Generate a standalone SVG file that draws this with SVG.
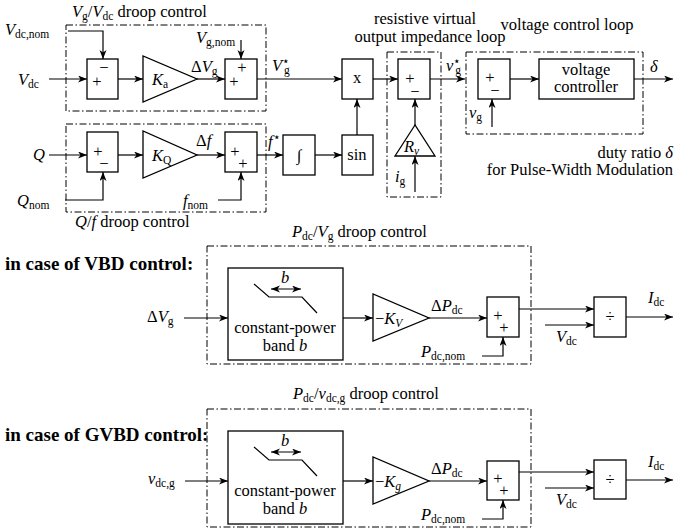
<svg xmlns="http://www.w3.org/2000/svg" width="674" height="529" viewBox="0 0 674 529" font-family="'Liberation Serif', 'Times New Roman', serif">
<defs>
<marker id="ar" markerWidth="10" markerHeight="8" refX="9" refY="3.5" orient="auto" markerUnits="userSpaceOnUse">
<path d="M0,0 L9,3.5 L0,7 L2.5,3.5 z" fill="#000"/>
</marker>
<marker id="ar2" markerWidth="10" markerHeight="8" refX="9" refY="3.5" orient="auto-start-reverse" markerUnits="userSpaceOnUse">
<path d="M0,0 L9,3.5 L0,7 L2.5,3.5 z" fill="#000"/>
</marker>
<style>
text{font-family:'Liberation Serif','Times New Roman',Times,serif;font-size:16.5px;fill:#000}
.i{font-style:italic}
.s{font-size:11.5px;font-style:normal}
.si{font-size:11.5px;font-style:italic}
.bold{font-weight:bold;font-size:19px}
.m{text-anchor:middle}
.e{text-anchor:end}
.box{fill:#fff;stroke:#000;stroke-width:1.3}
.dd{fill:none;stroke:#000;stroke-width:1;stroke-dasharray:7 2.5 1.5 2.5}
.w{fill:none;stroke:#000;stroke-width:1.2;marker-end:url(#ar)}
.l{fill:none;stroke:#000;stroke-width:1.2}
</style>
</defs>

<g id="frames">
<rect class="dd" x="66" y="25" width="200" height="86"/>
<rect class="dd" x="66" y="124" width="200" height="88"/>
<rect class="dd" x="387" y="52" width="54" height="145"/>
<rect class="dd" x="466" y="52" width="177" height="82"/>
<rect class="dd" x="207" y="246" width="324" height="118"/>
<rect class="dd" x="207" y="409" width="324" height="118"/>
</g>

<g id="connectors">
<polyline class="w" points="68,31 103,31 103,59"/>
<line class="w" x1="49" y1="79" x2="87" y2="79"/>
<line class="w" x1="118" y1="79" x2="143" y2="79"/>
<line class="w" x1="197" y1="79" x2="225" y2="79"/>
<line class="w" x1="241" y1="40" x2="241" y2="59"/>
<line class="w" x1="257" y1="79" x2="342" y2="79"/>
<line class="w" x1="49" y1="155" x2="87" y2="155"/>
<line class="w" x1="118" y1="155" x2="143" y2="155"/>
<line class="w" x1="197" y1="155" x2="225" y2="155"/>
<polyline class="w" points="65,200 103,200 103,172"/>
<polyline class="w" points="218,200 241,200 241,172"/>
<line class="w" x1="257" y1="155" x2="283" y2="155"/>
<line class="w" x1="315" y1="155" x2="342" y2="155"/>
<line class="w" x1="357" y1="135" x2="357" y2="99"/>
<line class="w" x1="373" y1="79" x2="398" y2="79"/>
<line class="w" x1="415" y1="125" x2="415" y2="99"/>
<line class="w" x1="415" y1="192" x2="415" y2="156"/>
<line class="w" x1="430" y1="79" x2="465" y2="79"/>
<line class="w" x1="492" y1="127" x2="492" y2="99"/>
<line class="w" x1="510" y1="79" x2="539" y2="79"/>
<line class="w" x1="634" y1="79" x2="673" y2="79"/>

<line class="w" x1="184" y1="318" x2="228" y2="318"/>
<line class="w" x1="343" y1="318" x2="373" y2="318"/>
<line class="w" x1="429" y1="318" x2="487" y2="318"/>
<polyline class="w" points="482,356 503,356 503,337"/>
<line class="w" x1="519" y1="309" x2="594" y2="309"/>
<line class="w" x1="545" y1="325" x2="594" y2="325"/>
<line class="w" x1="626" y1="317" x2="673" y2="317"/>

<line class="w" x1="185" y1="481" x2="228" y2="481"/>
<line class="w" x1="343" y1="481" x2="373" y2="481"/>
<line class="w" x1="429" y1="481" x2="487" y2="481"/>
<polyline class="w" points="482,519 503,519 503,500"/>
<line class="w" x1="519" y1="472" x2="594" y2="472"/>
<line class="w" x1="545" y1="488" x2="594" y2="488"/>
<line class="w" x1="626" y1="480" x2="673" y2="480"/>
</g>

<g id="sum1"><rect class="box" x="87" y="59" width="31" height="40"/>
<text class="m" x="104" y="73">−</text><text class="m" x="97" y="87">+</text></g>
<g id="gainKa"><polygon class="box" points="143,56 143,102 197,79"/>
<text x="152" y="85"><tspan class="i">K</tspan><tspan class="s" dy="3">a</tspan></text></g>
<g id="sum2"><rect class="box" x="225" y="59" width="32" height="40"/>
<text class="m" x="242" y="73">+</text><text class="m" x="234" y="87">+</text></g>

<g id="sum3"><rect class="box" x="87" y="132" width="31" height="40"/>
<text class="m" x="98" y="157">+</text><text class="m" x="104" y="169">−</text></g>
<g id="gainKQ"><polygon class="box" points="143,131 143,178 197,155"/>
<text x="152" y="161"><tspan class="i">K</tspan><tspan class="s" dy="3">Q</tspan></text></g>
<g id="sum4"><rect class="box" x="225" y="132" width="32" height="40"/>
<text class="m" x="235" y="157">+</text><text class="m" x="243" y="169">+</text></g>

<g id="integral"><rect class="box" x="283" y="135" width="32" height="40"/>
<text class="m i" x="299" y="161">∫</text></g>
<g id="sin"><rect class="box" x="342" y="135" width="31" height="40"/>
<text class="m" x="357" y="160">sin</text></g>
<g id="mult"><rect class="box" x="342" y="59" width="31" height="40"/>
<text class="m" x="357" y="83">x</text></g>

<g id="sumR"><rect class="box" x="398" y="59" width="32" height="40"/>
<text class="m" x="410" y="84">+</text><text class="m" x="415" y="97">−</text></g>
<g id="gainRv"><polygon class="box" points="415,125 395,156 435,156"/>
<text x="404" y="152"><tspan class="i">R</tspan><tspan class="si" dy="3">v</tspan></text></g>

<g id="sumV"><rect class="box" x="478" y="59" width="32" height="40"/>
<text class="m" x="490" y="83">+</text><text class="m" x="495" y="96">−</text></g>
<g id="controller"><rect class="box" x="539" y="59" width="95" height="40"/>
<text class="m" x="586" y="75">voltage</text><text class="m" x="586" y="92">controller</text></g>

<g id="band1"><rect class="box" x="228" y="268" width="115" height="92"/>
<polyline class="l" points="254,284 269,297 302,297 317,313"/>
<line class="l" x1="271" y1="289" x2="301" y2="289" marker-start="url(#ar2)" marker-end="url(#ar2)" style="stroke-width:1"/>
<text class="m i" x="285" y="283">b</text>
<text class="m" x="285" y="333">constant-power</text>
<text class="m" x="285" y="351">band <tspan class="i">b</tspan></text></g>
<g id="gainKV"><polygon class="box" points="373,294 373,341 429,318"/>
<text x="375" y="324">−<tspan class="i">K</tspan><tspan class="si" dy="3">V</tspan></text></g>
<g id="sum5"><rect class="box" x="487" y="297" width="32" height="40"/>
<text class="m" x="498" y="321">+</text><text class="m" x="504" y="333">+</text></g>
<g id="div1"><rect class="box" x="594" y="297" width="32" height="40"/>
<text class="m" x="610" y="322">÷</text></g>

<g id="band2"><rect class="box" x="228" y="431" width="115" height="93"/>
<polyline class="l" points="254,447 269,460 302,460 317,476"/>
<line class="l" x1="271" y1="452" x2="301" y2="452" marker-start="url(#ar2)" marker-end="url(#ar2)" style="stroke-width:1"/>
<text class="m i" x="285" y="446">b</text>
<text class="m" x="285" y="496">constant-power</text>
<text class="m" x="285" y="514">band <tspan class="i">b</tspan></text></g>
<g id="gainKg"><polygon class="box" points="373,457 373,504 429,481"/>
<text x="375" y="487">−<tspan class="i">K</tspan><tspan class="si" dy="3">g</tspan></text></g>
<g id="sum6"><rect class="box" x="487" y="461" width="32" height="39"/>
<text class="m" x="498" y="484">+</text><text class="m" x="504" y="496">+</text></g>
<g id="div2"><rect class="box" x="594" y="460" width="32" height="39"/>
<text class="m" x="610" y="485">÷</text></g>

<g id="labels">
<text x="72" y="17"><tspan class="i">V</tspan><tspan class="s" dy="3">g</tspan><tspan dy="-3">/</tspan><tspan class="i">V</tspan><tspan class="s" dy="3">dc</tspan><tspan dy="-3"> droop control</tspan></text>
<text x="5" y="35"><tspan class="i">V</tspan><tspan class="s" dy="3">dc,nom</tspan></text>
<text x="18" y="85"><tspan class="i">V</tspan><tspan class="s" dy="3">dc</tspan></text>
<text x="196" y="43"><tspan class="i">V</tspan><tspan class="s" dy="3">g,nom</tspan></text>
<text x="191" y="72">Δ<tspan class="i">V</tspan><tspan class="s" dy="3">g</tspan></text>
<text x="272" y="71"><tspan class="i">V</tspan><tspan class="s" dy="-6">⋆</tspan><tspan class="s" dx="-6" dy="9">g</tspan></text>
<text x="33" y="160" class="i">Q</text>
<text x="196" y="146">Δ<tspan class="i">f</tspan></text>
<text x="268" y="147"><tspan class="i">f</tspan><tspan class="s" dy="-6">⋆</tspan></text>
<text x="17" y="206"><tspan class="i">Q</tspan><tspan class="s" dy="3">nom</tspan></text>
<text x="183" y="206"><tspan class="i">f</tspan><tspan class="s" dy="3">nom</tspan></text>
<text x="75" y="227"><tspan class="i">Q</tspan>/<tspan class="i">f</tspan> droop control</text>
<text class="m" x="425" y="24">resistive virtual</text>
<text class="m" x="430" y="42">output impedance loop</text>
<text class="m" x="567" y="30">voltage control loop</text>
<text x="446" y="71"><tspan class="i">v</tspan><tspan class="s" dy="-6">⋆</tspan><tspan class="s" dx="-6" dy="9">g</tspan></text>
<text x="469" y="118"><tspan class="i">v</tspan><tspan class="s" dy="3">g</tspan></text>
<text x="395" y="182"><tspan class="i">i</tspan><tspan class="s" dy="3">g</tspan></text>
<text x="650" y="72" class="i">δ</text>
<text class="e" x="673" y="158">duty ratio <tspan class="i">δ</tspan></text>
<text class="e" x="673" y="175">for Pulse-Width Modulation</text>

<text x="292" y="237"><tspan class="i">P</tspan><tspan class="s" dy="3">dc</tspan><tspan dy="-3">/</tspan><tspan class="i">V</tspan><tspan class="s" dy="3">g</tspan><tspan dy="-3"> droop control</tspan></text>
<text x="5" y="270" class="bold">in case of VBD control:</text>
<text x="147" y="322">Δ<tspan class="i">V</tspan><tspan class="s" dy="3">g</tspan></text>
<text x="431" y="311">Δ<tspan class="i">P</tspan><tspan class="s" dy="3">dc</tspan></text>
<text x="421" y="357"><tspan class="i">P</tspan><tspan class="s" dy="3">dc,nom</tspan></text>
<text x="556" y="342"><tspan class="i">V</tspan><tspan class="s" dy="3">dc</tspan></text>
<text x="648" y="303"><tspan class="i">I</tspan><tspan class="s" dy="3">dc</tspan></text>

<text x="293" y="399"><tspan class="i">P</tspan><tspan class="s" dy="3">dc</tspan><tspan dy="-3">/</tspan><tspan class="i">v</tspan><tspan class="s" dy="3">dc,g</tspan><tspan dy="-3"> droop control</tspan></text>
<text x="5" y="441" class="bold">in case of GVBD control:</text>
<text x="148" y="484"><tspan class="i">v</tspan><tspan class="s" dy="3">dc,g</tspan></text>
<text x="431" y="474">Δ<tspan class="i">P</tspan><tspan class="s" dy="3">dc</tspan></text>
<text x="421" y="520"><tspan class="i">P</tspan><tspan class="s" dy="3">dc,nom</tspan></text>
<text x="556" y="505"><tspan class="i">V</tspan><tspan class="s" dy="3">dc</tspan></text>
<text x="648" y="467"><tspan class="i">I</tspan><tspan class="s" dy="3">dc</tspan></text>
</g>
</svg>
